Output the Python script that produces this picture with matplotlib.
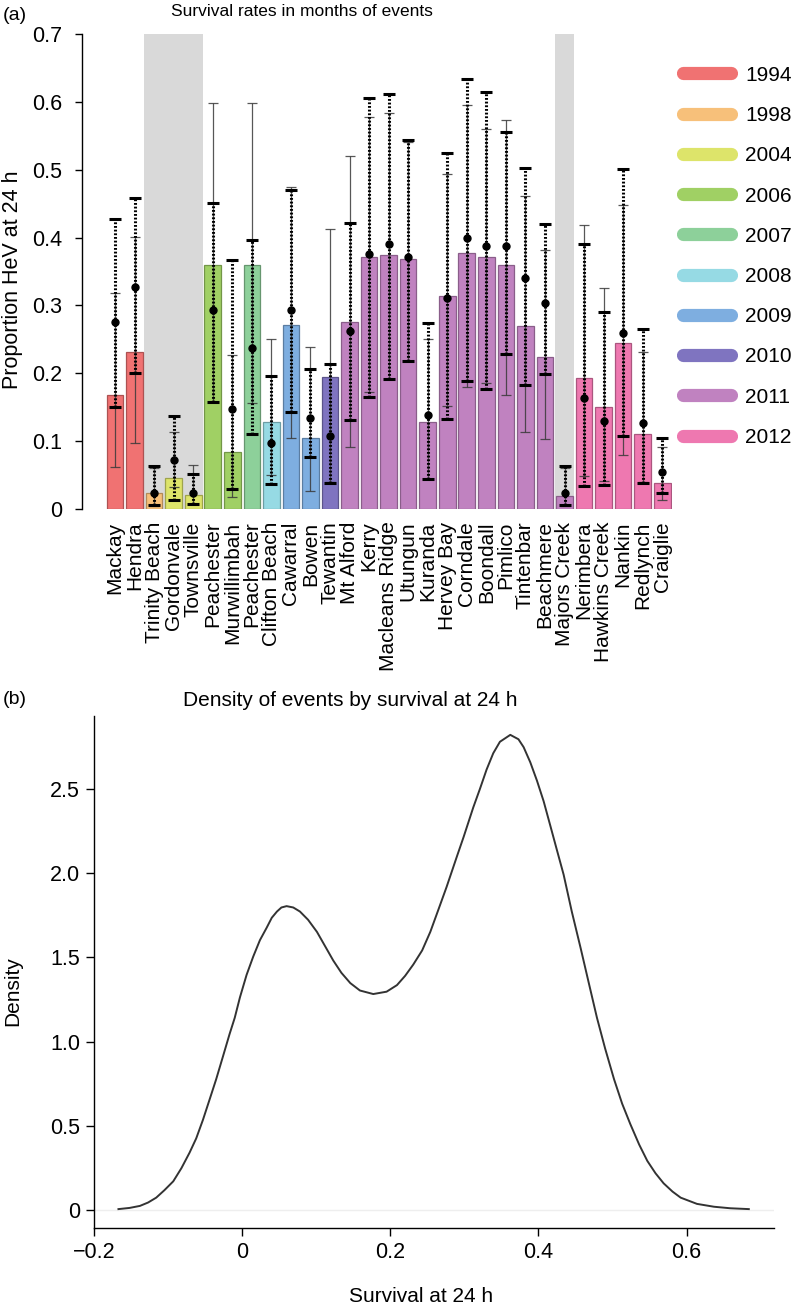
import numpy as np
import matplotlib.pyplot as plt
import matplotlib.colors as mcolors
from matplotlib.lines import Line2D

plt.rcParams['font.family'] = ['Liberation Sans', 'DejaVu Sans']
plt.rcParams['axes.linewidth'] = 1.0

# --- panel (a) data ---
sites = ["Mackay", "Hendra", "Trinity Beach", "Gordonvale", "Townsville",
         "Peachester", "Murwillimbah", "Peachester", "Clifton Beach", "Cawarral",
         "Bowen", "Tewantin", "Mt Alford", "Kerry", "Macleans Ridge", "Utungun",
         "Kuranda", "Hervey Bay", "Corndale", "Boondall", "Pimlico", "Tintenbar",
         "Beachmere", "Majors Creek", "Nerimbera", "Hawkins Creek", "Nankin",
         "Redlynch", "Craiglie"]
years = [1994, 1994, 1998, 2004, 2004, 2006, 2006, 2007, 2008, 2009,
         2009, 2010, 2011, 2011, 2011, 2011, 2011, 2011, 2011, 2011, 2011, 2011,
         2011, 2011, 2012, 2012, 2012, 2012, 2012]

# observed proportion (bars) with solid interval
observed = [0.168, 0.231, 0.023, 0.046, 0.021, 0.359, 0.084, 0.359, 0.128, 0.271,
            0.105, 0.194, 0.275, 0.372, 0.375, 0.369, 0.128, 0.314, 0.378, 0.371,
            0.359, 0.269, 0.224, 0.019, 0.193, 0.151, 0.244, 0.110, 0.038]
obs_lo = [0.062, 0.097, 0.005, 0.033, 0.007, 0.157, 0.018, 0.156, 0.050, 0.104,
          0.027, 0.040, 0.091, 0.172, 0.191, 0.218, 0.044, 0.152, 0.180, 0.185,
          0.168, 0.113, 0.103, 0.005, 0.049, 0.041, 0.080, 0.040, 0.013]
obs_hi = [0.318, 0.401, 0.060, 0.113, 0.065, 0.599, 0.227, 0.599, 0.250, 0.475,
          0.239, 0.412, 0.520, 0.577, 0.583, 0.541, 0.250, 0.494, 0.595, 0.560,
          0.573, 0.461, 0.381, 0.060, 0.418, 0.325, 0.448, 0.232, 0.092]

# model estimate (dots) with dotted interval
model = [0.276, 0.327, 0.023, 0.072, 0.024, 0.294, 0.148, 0.237, 0.098, 0.294,
         0.134, 0.108, 0.263, 0.376, 0.390, 0.372, 0.139, 0.311, 0.400, 0.388,
         0.388, 0.340, 0.304, 0.023, 0.163, 0.129, 0.260, 0.127, 0.054]
model_lo = [0.150, 0.201, 0.006, 0.013, 0.008, 0.157, 0.029, 0.110, 0.037, 0.143,
            0.076, 0.039, 0.131, 0.165, 0.191, 0.218, 0.044, 0.133, 0.189, 0.177,
            0.228, 0.183, 0.199, 0.006, 0.034, 0.035, 0.108, 0.039, 0.023]
model_hi = [0.427, 0.459, 0.064, 0.137, 0.052, 0.451, 0.367, 0.397, 0.196, 0.470,
            0.206, 0.214, 0.422, 0.606, 0.612, 0.544, 0.274, 0.524, 0.633, 0.615,
            0.556, 0.502, 0.420, 0.063, 0.390, 0.291, 0.501, 0.266, 0.104]

shaded_sites = [2, 3, 4, 23]

legend_years = [1994, 1998, 2004, 2006, 2007, 2008, 2009, 2010, 2011, 2012]
year_colors = ["#F07272", "#F7C07A", "#DDE46A", "#A0D064", "#8DD09A",
               "#96DAE4", "#7EAEE0", "#7F74C0", "#C082C0", "#EE78B0"]

# --- panel (b) density curve ---
dens_x = [-0.167, -0.152, -0.138, -0.127, -0.116, -0.105, -0.093, -0.082, -0.071,
          -0.062, -0.053, -0.044, -0.035, -0.026, -0.017, -0.010, -0.003, 0.006,
          0.015, 0.024, 0.033, 0.040, 0.047, 0.053, 0.060, 0.069, 0.078, 0.089,
          0.101, 0.112, 0.123, 0.134, 0.146, 0.159, 0.177, 0.195, 0.209, 0.220,
          0.231, 0.243, 0.254, 0.265, 0.276, 0.290, 0.299, 0.312, 0.321, 0.330,
          0.339, 0.348, 0.362, 0.373, 0.380, 0.389, 0.398, 0.407, 0.416, 0.425,
          0.434, 0.445, 0.457, 0.468, 0.479, 0.490, 0.502, 0.513, 0.524, 0.536,
          0.547, 0.558, 0.569, 0.581, 0.592, 0.614, 0.637, 0.659, 0.684]
dens_y = [0.005, 0.012, 0.024, 0.044, 0.073, 0.117, 0.170, 0.248, 0.340,
          0.425, 0.534, 0.655, 0.777, 0.910, 1.044, 1.141, 1.262, 1.396,
          1.505, 1.602, 1.675, 1.735, 1.772, 1.796, 1.804, 1.796, 1.772, 1.723,
          1.651, 1.566, 1.481, 1.408, 1.347, 1.303, 1.282, 1.296, 1.335, 1.390,
          1.457, 1.541, 1.651, 1.784, 1.918, 2.100, 2.215, 2.390, 2.500, 2.615,
          2.712, 2.780, 2.821, 2.795, 2.748, 2.658, 2.549, 2.427, 2.282, 2.136,
          1.991, 1.772, 1.554, 1.347, 1.141, 0.959, 0.777, 0.631, 0.510, 0.388,
          0.291, 0.218, 0.158, 0.109, 0.073, 0.036, 0.019, 0.010, 0.005]

W, H = 795, 1312
fig = plt.figure(figsize=(W / 100, H / 100), dpi=100)

# ================= panel (a) =================
ax = fig.add_axes([82 / W, 1 - 509 / H, 590 / W, 475 / H])
x = np.arange(len(sites))
cmap = dict(zip(legend_years, year_colors))
fills = [cmap[y] for y in years]
edges = [tuple(np.array(mcolors.to_rgb(c)) * 0.72) for c in fills]

for i in shaded_sites:
    ax.axvspan(i - 0.5, i + 0.5, ymin=0, ymax=1, color="#D9D9D9", lw=0, zorder=0)

ax.bar(x, observed, width=0.85, color=fills, edgecolor=edges, linewidth=0.9, zorder=2)

obs = np.array(observed)
ax.errorbar(x, obs, yerr=[obs - np.array(obs_lo), np.array(obs_hi) - obs],
            fmt="none", ecolor="#3a3a3a", elinewidth=0.9, capsize=3.5, capthick=0.9,
            alpha=0.85, zorder=3, clip_on=False)

mod = np.array(model)
eb = ax.errorbar(x, mod, yerr=[mod - np.array(model_lo), np.array(model_hi) - mod],
                 fmt="o", color="black", ms=5, ecolor="black", elinewidth=2.2,
                 capsize=4, capthick=2.2, zorder=4, clip_on=False)
eb[2][0].set_linestyle((0, (0.6, 0.6)))

ax.set_xlim(-1.69, 28.5)
ax.set_ylim(0, 0.7)
ax.set_yticks([0, 0.1, 0.2, 0.3, 0.4, 0.5, 0.6, 0.7])
ax.set_yticklabels(["0", "0.1", "0.2", "0.3", "0.4", "0.5", "0.6", "0.7"], fontsize=15.5)
ax.set_xticks(x)
ax.set_xticklabels(sites, rotation=90, fontsize=15)
ax.tick_params(axis="x", length=0, pad=9)
ax.tick_params(axis="y", direction="out", length=5, width=1, pad=9)
for s in ["top", "right", "bottom"]:
    ax.spines[s].set_visible(False)
ax.spines["left"].set_bounds(0, 0.7)

handles = [Line2D([0], [0], color=c, lw=9.5, solid_capstyle="round") for c in year_colors]
fig.legend(handles, [str(y) for y in legend_years], loc="upper left",
           bbox_to_anchor=(664 / W, 1 - 47 / H), frameon=False, fontsize=15,
           handlelength=2.3, handletextpad=0.7, labelspacing=1.02)

fig.text(3 / W, 1 - 16 / H, "(a)", fontsize=14, va="center", ha="left")
fig.text(302 / W, 1 - 11 / H, "Survival rates in months of events", fontsize=12.5,
         va="center", ha="center")
fig.text(13 / W, 1 - 280 / H, "Proportion HeV at 24 h", fontsize=15.5,
         rotation=90, va="center", ha="center")

# ================= panel (b) =================
bx = fig.add_axes([94 / W, 1 - 1228.3 / H, 680 / W, 512.3 / H])
bx.axhline(0, color="#EEEEEE", lw=1, zorder=1)
bx.plot(dens_x, dens_y, color="#333333", lw=1.4, zorder=2, solid_joinstyle="round")
bx.set_xlim(-0.2, 0.718)
bx.set_ylim(-0.109, 2.933)
bx.set_xticks([-0.2, 0, 0.2, 0.4, 0.6])
bx.set_xticklabels(["\u22120.2", "0", "0.2", "0.4", "0.6"], fontsize=15.5)
bx.set_yticks([0, 0.5, 1.0, 1.5, 2.0, 2.5])
bx.set_yticklabels(["0", "0.5", "1.0", "1.5", "2.0", "2.5"], fontsize=15.5)
bx.tick_params(axis="both", direction="out", length=6, width=1, pad=4)
for s in ["top", "right"]:
    bx.spines[s].set_visible(False)

fig.text(3 / W, 1 - 700 / H, "(b)", fontsize=14, va="center", ha="left")
fig.text(350 / W, 1 - 700 / H, "Density of events by survival at 24 h", fontsize=15,
         va="center", ha="center")
fig.text(13 / W, 1 - 991 / H, "Density", fontsize=15, rotation=90,
         va="center", ha="center")
fig.text(421 / W, 1 - 1297 / H, "Survival at 24 h", fontsize=15,
         va="center", ha="center")

fig.savefig("out.png", dpi=100)
